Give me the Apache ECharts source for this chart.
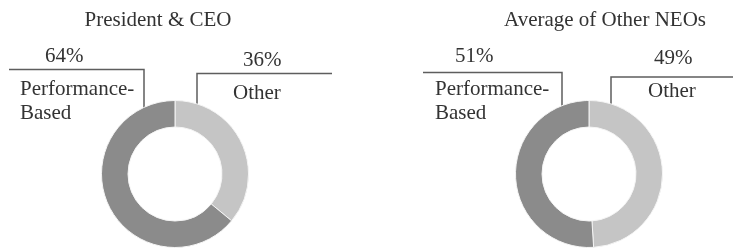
<!DOCTYPE html>
<html>
<head>
<meta charset="utf-8">
<script src="https://cdn.jsdelivr.net/npm/echarts@6/dist/echarts.min.js"></script>
<style>
html,body{margin:0;padding:0;background:#fff;}
#main{width:733px;height:250px;}
</style>
</head>
<body>
<div id="main"></div>
<script>
// chart data
var titles = ['President & CEO', 'Average of Other NEOs'];
var names = ['Other', 'Performance-\nBased'];
var ceoValues = [36, 64];
var neoValues = [49, 51];

window.onload = function () {
	var myChart = echarts.init(document.getElementById('main'));
	var font = 'Liberation Serif';
	var colors = ['#c5c5c5', '#8b8b8b'];

	// label box top-left, percent indent, leader line points  [series][dataIndex]
	var labelPos = [
		[{x: 233, y: 39, pad: 10, line: [[197, 118], [197, 73.5], [332, 73.5]]},
		 {x: 20, y: 35, pad: 25, line: [[144, 112], [144, 69.5], [9, 69.5]]}],
		[{x: 648, y: 37, pad: 6, line: [[611, 119], [611, 77], [733, 77]]},
		 {x: 435, y: 35, pad: 20, line: [[562, 113], [562, 72.5], [423, 72.5]]}]
	];
	var centers = [[175, 174], [589, 174]];
	var titleX = [158, 605];

	function makeSeries(idx, values) {
		return {
			type: 'pie',
			center: centers[idx],
			radius: [47, 73.5],
			startAngle: 90,
			clockwise: true,
			avoidLabelOverlap: false,
			silent: true,
			itemStyle: {borderColor: '#f4f4f4', borderWidth: 1},
			label: {
				show: true,
				position: 'outside',
				color: '#333',
				fontFamily: font,
				fontSize: 21,
				formatter: function (p) {
					return '{p' + p.dataIndex + '|' + p.percent.toFixed(0) + '%}\n{n|' + p.name + '}';
				},
				rich: {
					p0: {fontFamily: font, fontSize: 21, color: '#333', lineHeight: 42, align: 'left', padding: [0, 0, 0, labelPos[idx][0].pad]},
					p1: {fontFamily: font, fontSize: 21, color: '#333', lineHeight: 42, align: 'left', padding: [0, 0, 0, labelPos[idx][1].pad]},
					n: {fontFamily: font, fontSize: 21, color: '#333', lineHeight: 24, align: 'left'}
				}
			},
			labelLine: {show: true, lineStyle: {color: '#5e5e5e', width: 1.5}},
			labelLayout: function (params) {
				var lp = labelPos[params.seriesIndex][params.dataIndex];
				return {
					x: lp.x,
					y: lp.y,
					align: 'left',
					verticalAlign: 'top',
					labelLinePoints: lp.line
				};
			},
			data: values.map(function (v, i) {
				return {name: names[i], value: v, itemStyle: {color: colors[i]}};
			})
		};
	}

	myChart.setOption({
		animation: false,
		title: titles.map(function (t, i) {
			return {
				text: t,
				left: titleX[i],
				top: 10,
				padding: 0,
				textAlign: 'center',
				textStyle: {fontFamily: font, fontSize: 21, fontWeight: 'normal', color: '#333'}
			};
		}),
		series: [makeSeries(0, ceoValues), makeSeries(1, neoValues)]
	});
};
</script>
</body>
</html>
